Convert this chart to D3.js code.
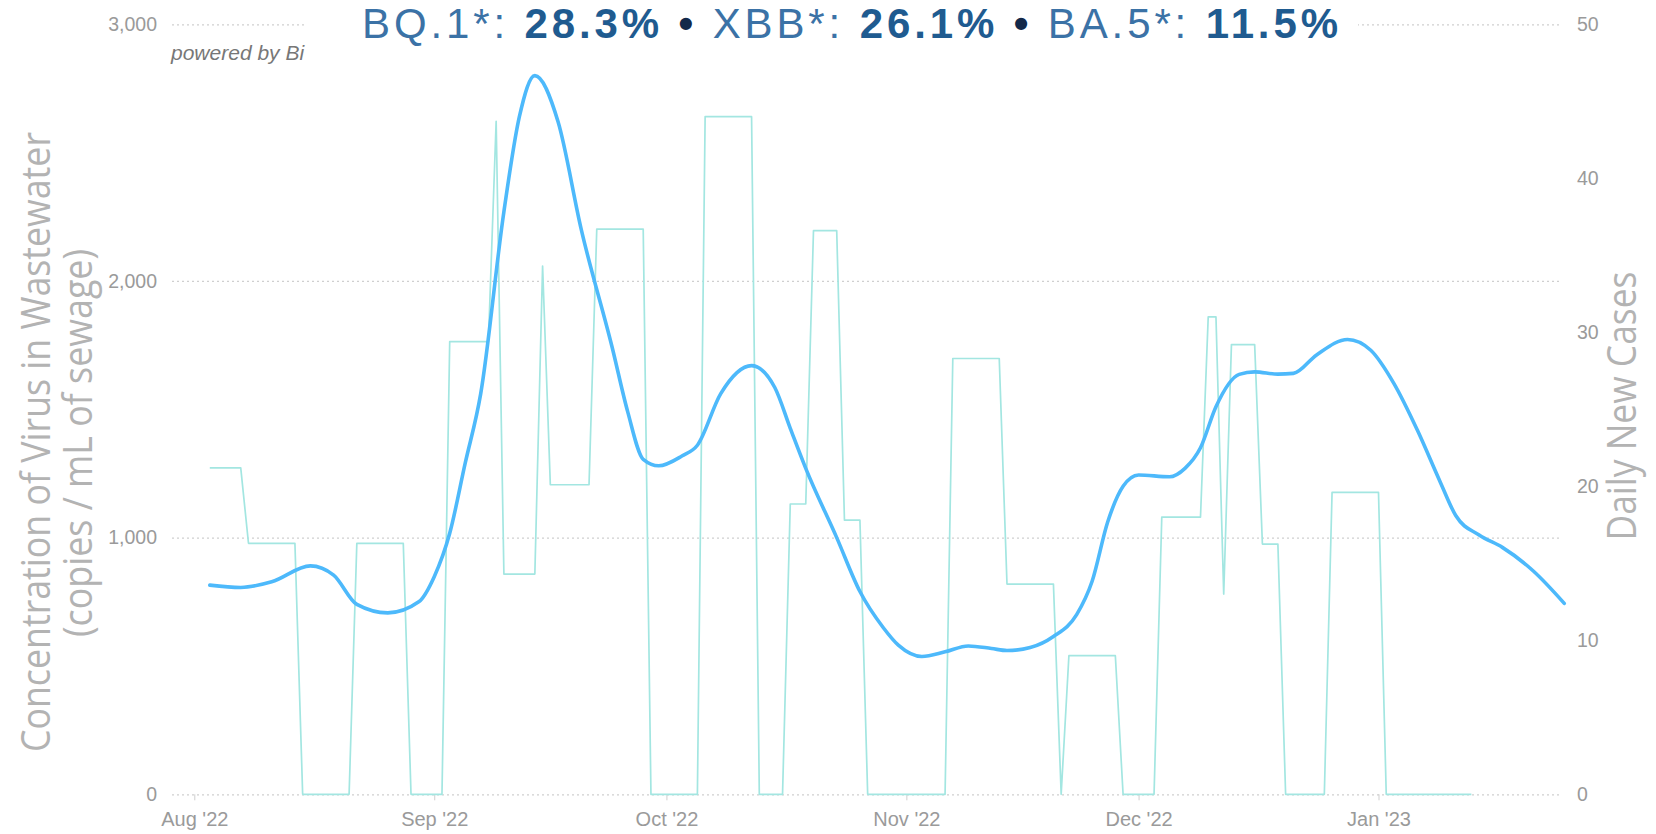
<!DOCTYPE html>
<html>
<head>
<meta charset="utf-8">
<script src="https://cdn.jsdelivr.net/npm/d3@7"></script>
<style>
  html, body { margin: 0; padding: 0; background: #fff; }
  svg { display: block; }
</style>
</head>
<body>
<svg id="chart" width="1656" height="834"></svg>
<script>
// ---- Data ----
const wwDates = ["2022-08-03","2022-08-07","2022-08-11","2022-08-16","2022-08-19","2022-08-22","2022-08-26","2022-08-30",
  "2022-09-01","2022-09-03","2022-09-05","2022-09-07","2022-09-10","2022-09-12","2022-09-14","2022-09-17","2022-09-20",
  "2022-09-24","2022-09-26","2022-09-28","2022-09-30","2022-10-03","2022-10-05","2022-10-08","2022-10-12","2022-10-15",
  "2022-10-17","2022-10-19","2022-10-23","2022-10-26","2022-10-29","2022-10-31","2022-11-03","2022-11-06","2022-11-09",
  "2022-11-12","2022-11-14","2022-11-17","2022-11-20","2022-11-23","2022-11-25","2022-11-27","2022-11-29","2022-12-01",
  "2022-12-05","2022-12-07","2022-12-09","2022-12-11","2022-12-14","2022-12-16","2022-12-19","2022-12-21","2022-12-24",
  "2022-12-28","2022-12-31","2023-01-03","2023-01-06","2023-01-09","2023-01-11","2023-01-14","2023-01-17","2023-01-21","2023-01-25"];
const wwValues = [815,806,828,890,854,740,707,750,
  848,1017,1290,1560,2270,2640,2800,2620,2200,
  1740,1490,1305,1280,1318,1360,1560,1670,1585,
  1426,1270,1000,790,650,580,537,555,578,
  568,560,572,615,700,830,1060,1200,1244,
  1237,1270,1350,1510,1636,1646,1637,1640,1712,
  1772,1730,1600,1420,1215,1085,1010,962,870,744];

const caseDates = ["2022-08-03","2022-08-07","2022-08-08","2022-08-14","2022-08-15","2022-08-21","2022-08-22","2022-08-28",
  "2022-08-29","2022-09-02","2022-09-03","2022-09-08","2022-09-09","2022-09-10","2022-09-14","2022-09-15","2022-09-16",
  "2022-09-21","2022-09-22","2022-09-28","2022-09-29","2022-10-05","2022-10-06","2022-10-12","2022-10-13","2022-10-16",
  "2022-10-17","2022-10-19","2022-10-20","2022-10-23","2022-10-24","2022-10-26","2022-10-27","2022-11-06","2022-11-07",
  "2022-11-13","2022-11-14","2022-11-20","2022-11-21","2022-11-22","2022-11-28","2022-11-29","2022-12-03","2022-12-04",
  "2022-12-09","2022-12-10","2022-12-11","2022-12-12","2022-12-13","2022-12-16","2022-12-17","2022-12-19","2022-12-20",
  "2022-12-25","2022-12-26","2023-01-01","2023-01-02","2023-01-13"];
const caseValues = [21.2,21.2,16.3,16.3,0,0,16.3,16.3,
  0,0,29.4,29.4,43.7,14.3,14.3,34.3,20.1,
  20.1,36.7,36.7,0,0,44.0,44.0,0,0,
  18.85,18.85,36.6,36.6,17.8,17.8,0,0,28.3,
  28.3,13.65,13.65,0,9.0,9.0,0,0,18.0,
  18.0,31.0,31.0,13.0,29.2,29.2,16.25,16.25,0,
  0,19.6,19.6,0,0];

const leftTicks = [0, 1000, 2000, 3000];
const rightTicks = [0, 10, 20, 30, 40, 50];
const monthTicks = ["2022-08-01","2022-09-01","2022-10-01","2022-11-01","2022-12-01","2023-01-01"];

const titleParts = [
  {t: "BQ.1*: ", k: "name"}, {t: "28.3%", k: "num"}, {t: " • ", k: "dot"},
  {t: "XBB*: ", k: "name"}, {t: "26.1%", k: "num"}, {t: " • ", k: "dot"},
  {t: "BA.5*: ", k: "name"}, {t: "11.5%", k: "num"}
];

// ---- Chart ----
const parse = d3.utcParse("%Y-%m-%d");
const svg = d3.select("#chart");
const gridL = 172, gridR = 1561;

const x = d3.scaleUtc().domain([parse("2022-08-01"), parse("2023-01-01")]).range([194.3, 1378.5]);
const yL = d3.scaleLinear().domain([0, 3000]).range([794.3, 24.3]);
const yR = d3.scaleLinear().domain([0, 50]).range([794.3, 24.3]);

const font = "'Liberation Sans', Arial, Helvetica, sans-serif";
const tickFont = "19.5px";

// left axis + gridlines
const gLeft = svg.append("g").attr("transform", `translate(${gridL},0)`)
  .call(d3.axisLeft(yL).tickValues(leftTicks).tickFormat(d3.format(","))
    .tickSizeInner(-(gridR - gridL)).tickSizeOuter(0).tickPadding(15));
gLeft.select(".domain").remove();
gLeft.selectAll(".tick line").attr("stroke", "#cfcfcf").attr("stroke-width", 1.2).attr("stroke-dasharray", "2,3");
gLeft.selectAll(".tick text").attr("fill", "#9a9a9a").style("font-family", font).style("font-size", tickFont);

// right axis
const gRight = svg.append("g").attr("transform", `translate(${gridR},0)`)
  .call(d3.axisRight(yR).tickValues(rightTicks).tickSize(0).tickPadding(16));
gRight.select(".domain").remove();
gRight.selectAll(".tick text").attr("fill", "#9a9a9a").style("font-family", font).style("font-size", tickFont);

// bottom axis
const gBottom = svg.append("g").attr("transform", `translate(0,${yL(0)})`)
  .call(d3.axisBottom(x).tickValues(monthTicks.map(parse)).tickFormat(d3.utcFormat("%b '%y"))
    .tickSize(6).tickPadding(12));
gBottom.select(".domain").remove();
gBottom.selectAll(".tick line").attr("stroke", "#cfcfcf");
gBottom.selectAll(".tick text").attr("fill", "#9a9a9a").style("font-family", font).style("font-size", "20px");

// cases line
const cases = caseDates.map((d, i) => ({date: parse(d), v: caseValues[i]}));
svg.append("path").datum(cases)
  .attr("fill", "none").attr("stroke", "#a3e6e1").attr("stroke-width", 1.7).attr("stroke-linejoin", "round")
  .attr("d", d3.line().x(d => x(d.date)).y(d => yR(d.v)));

// wastewater line
const ww = wwDates.map((d, i) => ({date: parse(d), v: wwValues[i]}));
svg.append("path").datum(ww)
  .attr("fill", "none").attr("stroke", "#4db9fb").attr("stroke-width", 3.6).attr("stroke-linecap", "round")
  .attr("d", d3.line().curve(d3.curveMonotoneX).x(d => x(d.date)).y(d => yL(d.v)));

// powered by
svg.append("text").attr("x", 171).attr("y", 60)
  .attr("fill", "#777").style("font-family", font).style("font-style", "italic").style("font-size", "21px")
  .text("powered by Bi");

// white box behind title
svg.append("rect").attr("x", 306).attr("y", 0).attr("width", 1052).attr("height", 66).attr("fill", "#fff");

// title
const title = svg.append("text").attr("x", 362).attr("y", 38)
  .style("font-family", font).style("font-size", "42px");
title.selectAll("tspan").data(titleParts).join("tspan")
  .attr("fill", d => d.k === "name" ? "#3b72a6" : d.k === "num" ? "#1f5b90" : "#13294a")
  .style("font-weight", d => d.k === "name" ? "normal" : "bold")
  .text(d => d.t);
title.attr("textLength", 976).attr("lengthAdjust", "spacing");

// axis titles
const axisTitleFont = "'Open Sans', 'Noto Sans', sans-serif";
svg.append("text").attr("transform", "translate(50,442) rotate(-90)").attr("text-anchor", "middle")
  .attr("fill", "#b3b3b3").style("font-family", axisTitleFont).style("font-size", "40px")
  .attr("textLength", 620).attr("lengthAdjust", "spacingAndGlyphs")
  .text("Concentration of Virus in Wastewater");
svg.append("text").attr("transform", "translate(92,443) rotate(-90)").attr("text-anchor", "middle")
  .attr("fill", "#b3b3b3").style("font-family", axisTitleFont).style("font-size", "40px")
  .attr("textLength", 388).attr("lengthAdjust", "spacingAndGlyphs")
  .text("(copies / mL of sewage)");
svg.append("text").attr("transform", "translate(1636,406) rotate(-90)").attr("text-anchor", "middle")
  .attr("fill", "#b3b3b3").style("font-family", axisTitleFont).style("font-size", "40px")
  .attr("textLength", 269).attr("lengthAdjust", "spacingAndGlyphs")
  .text("Daily New Cases");
</script>
</body>
</html>
